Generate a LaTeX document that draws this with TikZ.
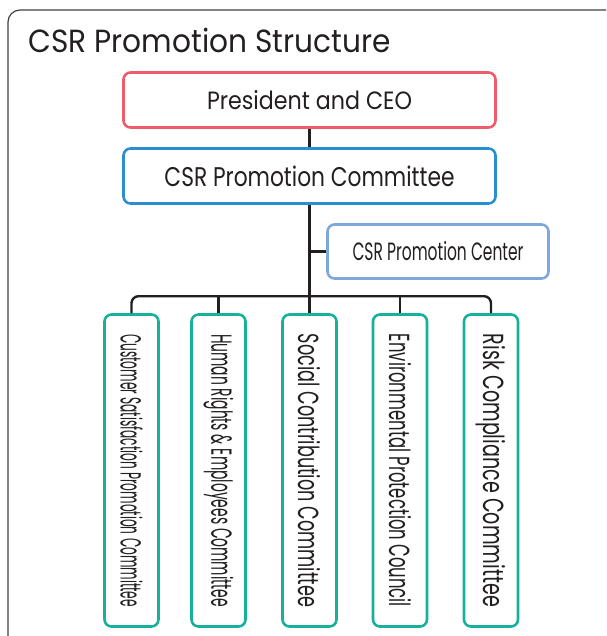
\documentclass[tikz,border=0pt]{standalone}
\usepackage{fontspec}
\setmainfont{Poppins}
\usepackage{graphicx}
\usetikzlibrary{calc, positioning}
\definecolor{ceored}{HTML}{EE5B6D}
\definecolor{comblue}{HTML}{2A8FD1}
\definecolor{cenblue}{HTML}{7FA8DA}
\definecolor{subteal}{HTML}{17B09C}
\definecolor{inkc}{HTML}{231F20}
\newcommand{\fitw}[2]{\resizebox{#1}{\height}{#2}}
\tikzstyle{frame}=[draw=black!75, line width=1.2pt, rounded corners=12pt]
\tikzstyle{conn}=[draw=inkc, line width=2.4pt]
\tikzstyle{boxbase}=[shape=rectangle, line width=2.6pt, rounded corners=7pt, fill=white, inner sep=0pt, text=inkc]
\tikzstyle{boxceo}=[boxbase, draw=ceored, minimum width=372pt, minimum height=55pt, font=\fontsize{25}{25}\selectfont]
\tikzstyle{boxcom}=[boxbase, draw=comblue, minimum width=372pt, minimum height=55pt, font=\fontsize{27}{27}\selectfont]
\tikzstyle{boxcen}=[boxbase, draw=cenblue, minimum width=221pt, minimum height=54pt, font=\fontsize{25}{25}\selectfont]
\tikzstyle{boxsub}=[boxbase, draw=subteal, rotate=-90, minimum width=312pt, minimum height=54pt, font=\fontsize{29}{29}\selectfont]

\begin{document}
\begin{tikzpicture}[x=1pt, y=-1pt]
\useasboundingbox (0,0) rectangle (606,636);
\clip (0,0) rectangle (606,636);
\draw [frame] (8,10) rectangle (640,680);
\node [anchor=base west, text=inkc, font=\fontsize{32}{32}\selectfont] (title) at (25,53) {\fitw{362pt}{CSR Promotion Structure}};

\node [boxceo] (ceo) at (309.5,100) {\fitw{205pt}{President and CEO}};
\node [boxcom] (com) at (309.5,176) {\fitw{290pt}{CSR Promotion Committee}};
\node [boxcen] (cen) at (438,251.5) {\fitw{171pt}{CSR Promotion Center}};

\node [boxsub] (sub1) at (131.5,470.5) {\fitw{273pt}{Customer Satisfaction Promotion Committee}};
\node [boxsub] (sub2) at (218.5,470.5) {\fitw{273pt}{Human Rights \& Employees Committee}};
\node [boxsub] (sub3) at (309.5,470.5) {\fitw{273pt}{Social Contribution Committee}};
\node [boxsub] (sub4) at (400,470.5) {\fitw{273pt}{Environmental Protection Council}};
\node [boxsub] (sub5) at (491,470.5) {\fitw{273pt}{Risk Compliance Committee}};

\draw [conn] (ceo) -- (com);
\draw [conn] (com.south) -- (sub3.west);
\draw [conn] (cen.west) -- (cen.west -| com.south);
\draw [conn, rounded corners=7pt] (sub1.west) -- ++(0,-17) -| (sub5.west);
\draw [conn] (sub2.west) -- ++(0,-17) (sub4.west) -- ++(0,-17);

\end{tikzpicture}
\end{document}
